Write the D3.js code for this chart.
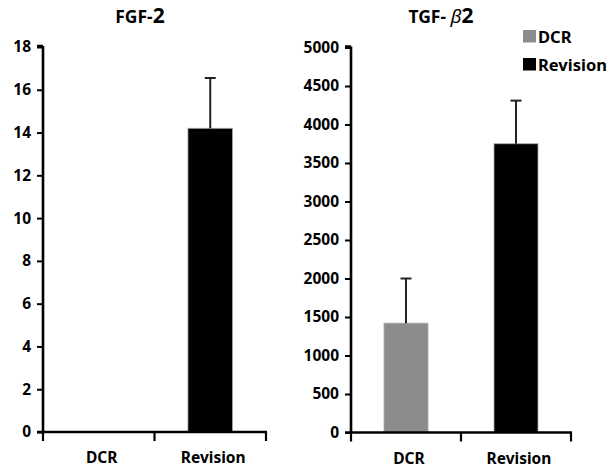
<!DOCTYPE html>
<html><head><meta charset="utf-8">
<script src="https://cdn.jsdelivr.net/npm/d3@7"></script>
<style>
body{margin:0;background:#fff;}
text{font-family:"Noto Sans","Open Sans",sans-serif;font-weight:bold;fill:#000;}
</style></head>
<body><svg id="c" width="610" height="469"></svg>
<script>
const categories = ["DCR", "Revision"];
const fgfValues = [0, 14.2];
const fgfErrors = [0, 2.35];
const fgfTicks = [0, 2, 4, 6, 8, 10, 12, 14, 16, 18];
const tgfValues = [1420, 3750];
const tgfErrors = [580, 560];
const tgfTicks = [0, 500, 1000, 1500, 2000, 2500, 3000, 3500, 4000, 4500, 5000];
const colors = ["#8c8c8c", "#000000"];

const svg = d3.select("#c");

function panel(cfg) {
  const x = d3.scaleBand().domain(categories).range([cfg.x0, cfg.x1]).padding(0);
  const y = d3.scaleLinear().domain([0, cfg.max]).range([cfg.yb, cfg.yt]);
  const g = svg.append("g");
  const bw = x.bandwidth();
  g.selectAll("rect.bar").data(categories).enter().append("rect")
    .attr("x", d => x(d) + bw * 0.3)
    .attr("width", bw * 0.4)
    .attr("y", (d, i) => y(cfg.values[i]))
    .attr("height", (d, i) => y(0) - y(cfg.values[i]))
    .attr("fill", (d, i) => colors[i])
    .attr("stroke", (d, i) => cfg.values[i] > 0 ? "#aaa" : "none")
    .attr("stroke-width", 0.8);
  categories.forEach((c, i) => {
    if (cfg.errors[i] <= 0) return;
    const cx = x(c) + bw / 2;
    g.append("line").attr("x1", cx).attr("x2", cx)
      .attr("y1", y(cfg.values[i])).attr("y2", y(cfg.values[i] + cfg.errors[i]))
      .attr("stroke", "#222").attr("stroke-width", 2);
    g.append("line").attr("x1", cx - 5.5).attr("x2", cx + 5.5)
      .attr("y1", y(cfg.values[i] + cfg.errors[i])).attr("y2", y(cfg.values[i] + cfg.errors[i]))
      .attr("stroke", "#222").attr("stroke-width", 2);
  });
  const ya = g.append("g").attr("transform", `translate(${cfg.x0},0)`)
    .call(d3.axisLeft(y).tickValues(cfg.ticks).tickSize(6).tickPadding(6).tickFormat(d3.format("d")));
  ya.select(".domain").attr("stroke", "#000").attr("stroke-width", 2.6).attr("d", `M0,${cfg.yt - 1}H-6M0,${cfg.yt - 1}V${cfg.yb}`);
  ya.selectAll(".tick line").attr("stroke", "#000").attr("stroke-width", 2);
  ya.selectAll(".tick text").style("font-size", "15.5px").attr("fill", "#000");
  const xa = g.append("g").attr("transform", `translate(0,${cfg.yb})`);
  xa.append("line").attr("x1", cfg.x0 - 6).attr("x2", cfg.x1 + 1).attr("stroke", "#000").attr("stroke-width", 2.6);
  const edges = [cfg.x0, x("Revision"), cfg.x1];
  xa.selectAll("line.tk").data(edges).enter().append("line")
    .attr("x1", d => d).attr("x2", d => d).attr("y1", 0).attr("y2", 9)
    .attr("stroke", "#000").attr("stroke-width", 2.2);
  xa.selectAll("text.cat").data(categories).enter().append("text")
    .attr("x", d => x(d) + bw / 2 + 3).attr("y", 31)
    .attr("text-anchor", "middle").style("font-size", "15.5px").text(d => d);
  return {x, y};
}

panel({x0: 43, x1: 266, yb: 432, yt: 47, max: 18, values: fgfValues, errors: fgfErrors, ticks: fgfTicks});
panel({x0: 351, x1: 571, yb: 432.5, yt: 47.5, max: 5000, values: tgfValues, errors: tgfErrors, ticks: tgfTicks});

const t1 = svg.append("text").attr("x", 140).attr("y", 23).attr("text-anchor", "middle").style("font-size", "17.5px");
t1.append("tspan").text("FGF-");
t1.append("tspan").style("font-size", "21px").text("2");
const t2 = svg.append("text").attr("x", 441).attr("y", 23).attr("text-anchor", "middle").style("font-size", "17.5px");
t2.append("tspan").text("TGF- ");
t2.append("tspan").style("font-style", "italic").style("font-weight", "normal").style("font-size", "19px").text("β");
t2.append("tspan").style("font-size", "21px").text("2");

const leg = svg.append("g");
categories.forEach((c, i) => {
  leg.append("rect").attr("x", 523).attr("y", 30 + i * 28).attr("width", 13).attr("height", 12.5).attr("fill", colors[i]);
  leg.append("text").attr("x", 538).attr("y", 43 + i * 27.5).style("font-size", "16.5px").text(c);
});
</script></body></html>
